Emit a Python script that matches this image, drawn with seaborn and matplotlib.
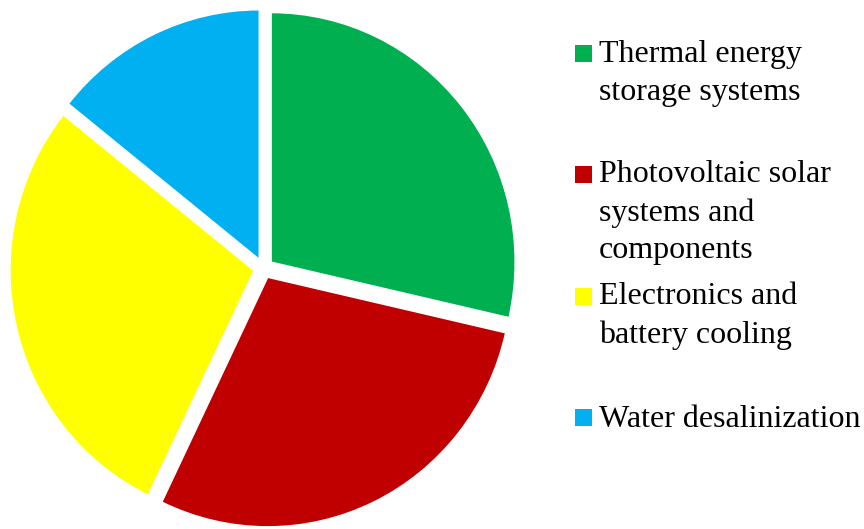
import matplotlib
matplotlib.use("Agg")
import matplotlib.pyplot as plt
from matplotlib.patches import Rectangle
import seaborn as sns

# application areas and their share (counts)
categories = ["Thermal energy\nstorage systems",
              "Photovoltaic solar\nsystems and\ncomponents",
              "Electronics and\nbattery cooling",
              "Water desalinization"]
values = [2, 2, 2, 1]
colors = ["#00B050", "#C00000", "#FFFF00", "#00B0F0"]

sns.set_theme(style="white")
plt.rcParams["font.family"] = ["Liberation Serif", "DejaVu Serif"]
palette = sns.color_palette(colors)

W, H = 864, 529
fig = plt.figure(figsize=(W / 100, H / 100), dpi=100)

# pie axes, placed so the centre lands around (262, 268) px
cx, cy = 263.5, 268.3
rx, ry = 244.0, 249.5
xl, yl = 1.07, 1.04
ax = fig.add_axes([(cx - xl * rx) / W, (H - cy - yl * ry) / H,
                   2 * xl * rx / W, 2 * yl * ry / H])
ax.pie(values, colors=palette, startangle=90, counterclock=False,
       explode=[0.04] * len(values),
       wedgeprops=dict(edgecolor="white", linewidth=1))
ax.set_aspect("auto")
ax.set_xlim(-xl, xl)
ax.set_ylim(-yl, yl)
ax.axis("off")

# legend drawn by hand: entries sit in equal slots, marker next to first line
slot_top = 43
slot_step = 121.3
line_px = 37
for i, (lab, col) in enumerate(zip(categories, palette)):
    top = slot_top + i * slot_step
    base = top + 20 + (lab.count("\n")) * line_px
    fig.patches.append(Rectangle((575 / W, 1 - (top + 19) / H), 17 / W, 17 / H,
                                 transform=fig.transFigure, facecolor=col,
                                 edgecolor="none"))
    fig.text(599 / W, 1 - base / H, lab, fontsize=23, va="baseline",
             ha="left", color="black", linespacing=1.40)

fig.savefig("out.png", dpi=100)
